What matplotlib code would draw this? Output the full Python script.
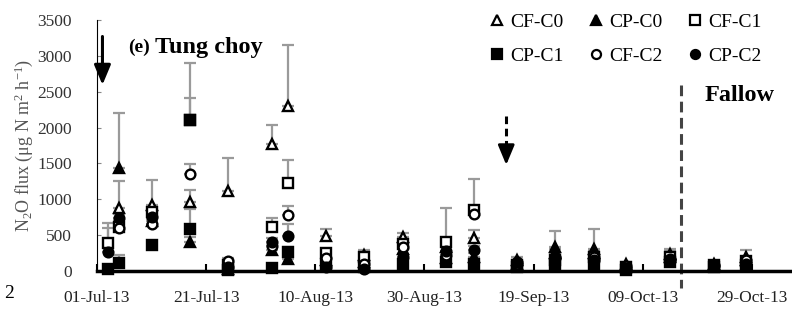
import matplotlib
matplotlib.use('Agg')
import matplotlib.pyplot as plt
import matplotlib.dates as mdates
import numpy as np
import pandas as pd
from matplotlib.lines import Line2D

plt.rcParams['font.family'] = ['Liberation Serif', 'DejaVu Serif']
plt.rcParams['mathtext.fontset'] = 'custom'
plt.rcParams['mathtext.rm'] = 'Liberation Serif'
plt.rcParams['mathtext.default'] = 'regular'

# ---------------- data ----------------
dates = pd.to_datetime([
    '2013-07-03', '2013-07-05', '2013-07-11', '2013-07-18', '2013-07-18',
    '2013-07-25', '2013-08-02', '2013-08-05', '2013-08-12', '2013-08-19',
    '2013-08-26', '2013-09-03', '2013-09-08', '2013-09-16', '2013-09-23',
    '2013-09-30', '2013-10-06', '2013-10-14', '2013-10-22', '2013-10-28'])
nan = np.nan

cf_c0 = [nan, 880, 920, 960, nan, 1110, 1770, 2300, 490, 120, 470, 330, 460, 100, 250, 300, 60, 200, 80, 190]
cf_c0_err = [nan, 370, 350, 170, nan, 460, 260, 850, 90, 40, 60, 80, 110, 30, 60, 290, 30, 80, 40, 100]

cp_c0 = [nan, 1430, 700, 410, nan, 30, 290, 170, 150, 230, 300, 180, 200, 160, 330, 250, 100, 240, 100, 150]
cp_c0_err = [nan, 780, 100, 60, nan, 20, 60, 40, 40, 60, 50, 50, 50, 40, 230, 40, 30, 60, 40, 50]

cf_c1 = [390, 620, 820, 2100, nan, 80, 620, 1230, 250, 190, 380, 400, 850, 80, 150, 200, 50, 200, 90, 140]
cf_c1_err = [280, 80, 80, 310, nan, 30, 120, 320, 50, 40, 50, 480, 430, 30, 40, 50, 20, 60, 30, 50]

cp_c1 = [30, 107, 360, 2100, 580, 20, 40, 270, 100, 60, 100, 120, 100, 60, 80, 100, 20, 120, 60, 80]
cp_c1_err = [20, 120, 50, 800, 290, 20, 20, 60, 40, 30, 40, 40, 40, 30, 40, 40, 20, 40, 30, 40]

cf_c2 = [nan, 600, 650, 1350, nan, 140, 350, 780, 180, 100, 330, 220, 800, 100, 180, 200, 70, 170, 90, 150]
cf_c2_err = [nan, 100, 80, 140, nan, 40, 60, 120, 40, 30, 50, 50, 50, 30, 40, 40, 20, 50, 30, 50]

cp_c2 = [270, 740, 750, nan, nan, 60, 400, 490, 60, 30, 200, 280, 290, 120, 200, 150, 40, 150, 70, 100]
cp_c2_err = [330, 60, 60, nan, nan, 20, 60, 170, 30, 20, 40, 60, 60, 30, 40, 40, 20, 40, 30, 40]

series_names = ['CF-C0', 'CP-C0', 'CF-C1', 'CP-C1', 'CF-C2', 'CP-C2']
series_vals = [cf_c0, cp_c0, cf_c1, cp_c1, cf_c2, cp_c2]
series_errs = [cf_c0_err, cp_c0_err, cf_c1_err, cp_c1_err, cf_c2_err, cp_c2_err]
series_markers = ['^', '^', 's', 's', 'o', 'o']
series_fill = ['white', 'black', 'white', 'black', 'white', 'black']

tick_dates = pd.date_range('2013-07-01', periods=7, freq='20D')
fertilizer_date = pd.Timestamp('2013-07-02')
second_event_date = pd.Timestamp('2013-09-14')
fallow_date = pd.Timestamp('2013-10-16')

# ---------------- figure ----------------
fig = plt.figure(figsize=(7.92, 3.11), dpi=100)
ax = fig.add_axes([97 / 792, 1 - 271 / 311, (790 - 97) / 792, (271 - 20) / 311])

for vals, errs in zip(series_vals, series_errs):
    v = np.array(vals, dtype=float)
    e = np.array(errs, dtype=float)
    ax.errorbar(dates, v, yerr=[np.zeros_like(e), e], fmt='none',
                ecolor='#9a9a9a', elinewidth=1.6, capsize=4.5, capthick=1.6,
                zorder=2, clip_on=False)

for i, (vals, m, fc) in enumerate(zip(series_vals, series_markers, series_fill)):
    ax.plot(dates, np.array(vals, dtype=float), linestyle='none', marker=m,
            mfc=fc, mec='black', ms=7.5 if m != 'o' else 7, mew=1.7,
            zorder=3 + i, clip_on=False)

ax.set_xlim(pd.Timestamp('2013-07-01'), pd.Timestamp('2013-11-05'))
ax.set_ylim(0, 3500)
ax.set_yticks(np.arange(0, 3501, 500))
ax.set_xticks(tick_dates)
ax.xaxis.set_major_formatter(mdates.DateFormatter('%d-%b-%y'))

for s in ['top', 'right']:
    ax.spines[s].set_visible(False)
ax.spines['bottom'].set_linewidth(2.5)
ax.spines['left'].set_linewidth(0.8)
ax.spines['bottom'].set_zorder(10)

ax.tick_params(axis='x', direction='in', length=5, width=1.5, pad=14,
               labelsize=12.5, labelcolor='#222222')
ax.tick_params(axis='y', direction='in', length=3, width=0.8, pad=18,
               labelsize=12.5, labelcolor='#333333', color='#888888')

ax.set_ylabel('N$_2$O flux (μg N m$^{2}$ h$^{-1}$)', fontsize=13, color='#555555')
ax.yaxis.set_label_coords(-0.09, 0.5)

# event markers
ax.plot([fallow_date, fallow_date], [2600, -240], color='#444444', lw=2.2,
        ls=(0, (3.5, 1.8)), clip_on=False, zorder=5)
ax.annotate('', xy=(fertilizer_date, 2595), xytext=(fertilizer_date, 3270),
            arrowprops=dict(arrowstyle='-|>,head_length=1.2,head_width=0.5',
                            lw=2.2, color='black', shrinkA=0, shrinkB=0))
ax.plot([second_event_date, second_event_date], [2165, 1700], color='black',
        lw=2.2, ls=(0, (2.5, 1.5)))
ax.annotate('', xy=(second_event_date, 1479), xytext=(second_event_date, 1720),
            arrowprops=dict(arrowstyle='-|>,head_length=1.2,head_width=0.5',
                            lw=2.0, color='black', shrinkA=0, shrinkB=0))

# texts
fig.text(128 / 792, 1 - 47 / 311, '(e)', fontsize=14, fontweight='bold', va='center')
fig.text(155 / 792, 1 - 47 / 311, 'Tung choy', fontsize=17.5, fontweight='bold', va='center')
fig.text(705 / 792, 1 - 95 / 311, 'Fallow', fontsize=17.5, fontweight='bold', va='center')
fig.text(4 / 792, 1 - 293 / 311, '2', fontsize=14, va='center')

handles = [Line2D([], [], ls='none', marker=m, mfc=fc, mec='black',
                  ms=6.5, mew=1.6) for m, fc in zip(series_markers, series_fill)]
# legend fills column-wise; reorder so rows read CF-C0 CP-C0 CF-C1 / CP-C1 CF-C2 CP-C2
order = [0, 3, 1, 4, 2, 5]
fig.legend([handles[i] for i in order], [series_names[i] for i in order],
           ncol=3, loc='upper left',
           bbox_to_anchor=(489 / 792, 1 - 13 / 311), frameon=False,
           fontsize=14, handlelength=0.8, handletextpad=0.3,
           columnspacing=1.25, labelspacing=0.85, borderpad=0,
           borderaxespad=0)

fig.savefig('out.png', dpi=100)
